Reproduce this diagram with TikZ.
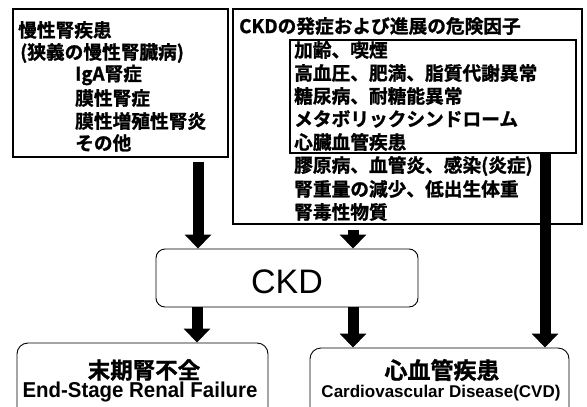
\documentclass[tikz,border=0pt]{standalone}
\usepackage{fontspec}
\setmainfont{Liberation Sans}
\newfontfamily\jp{Noto Sans CJK JP}[BoldFont={Noto Sans CJK JP Bold}, BoldFeatures={FakeBold=1.2}]
\usetikzlibrary{arrows.meta}
\begin{document}
\begin{tikzpicture}[x=1pt,y=-1pt,
  jt/.style={font=\jp\bfseries\fontsize{18.7}{18.7}\selectfont, anchor=west, inner sep=0pt},
  framebox/.style={draw, line width=1.6pt, inner sep=0pt, rectangle},
  roundbox/.style={draw, line width=0.9pt, inner sep=0pt, rectangle, rounded corners=9pt},
  bigarrow/.style={line width=11pt, -{Triangle[width=26pt,length=14pt]}},
]
\useasboundingbox (0,0) rectangle (587,407);
\fill[white] (0,0) rectangle (587,407);

% boxes
\node[framebox, minimum width=215pt, minimum height=148pt] (lbox) at (120.5,83) {};
\node[framebox, minimum width=349pt, minimum height=215pt] (rbox) at (407.5,116.5) {};
\node[framebox, line width=2pt, minimum width=286pt, minimum height=113pt] (ibox) at (433,96.5) {};
\node[roundbox, minimum width=262pt, minimum height=58pt] (ckd) at (287,278) {};
\node[roundbox, minimum width=251pt, minimum height=80pt, rounded corners=11pt] (esrf) at (142.5,383) {};
\node[roundbox, minimum width=259pt, minimum height=76pt, rounded corners=11pt] (cvd) at (439.5,386) {};

% left box text
\node[jt] (l1) at (18,30) {慢性腎疾患};
\node[jt] (l2) at (20,53) {(狭義の慢性腎臓病)};
\node[jt] (l3) at (75,75) {IgA腎症};
\node[jt] (l4) at (75,98) {膜性腎症};
\node[jt] (l5) at (75,121) {膜性増殖性腎炎};
\node[jt] (l6) at (75,143) {その他};

% right box text
\node[jt] (r0) at (239,26) {CKDの発症および進展の危険因子};
\node[jt] (r1) at (294,50) {加齢、喫煙};
\node[jt] (r2) at (294,73) {高血圧、肥満、脂質代謝異常};
\node[jt] (r3) at (294,96) {糖尿病、耐糖能異常};
\node[jt] (r4) at (294,119) {メタボリックシンドローム};
\node[jt] (r5) at (294,142) {心臓血管疾患};
\node[jt] (r6) at (294,166) {膠原病、血管炎、感染(炎症)};
\node[jt] (r7) at (294,189) {腎重量の減少、低出生体重};
\node[jt] (r8) at (294,212) {腎毒性物質};

% CKD label
\node[font=\fontsize{34}{34}\selectfont, inner sep=0pt] (ckdlabel) at (287,282) {CKD};

% bottom texts
\node[font=\jp\bfseries\fontsize{22.5}{22.5}\selectfont, inner sep=0pt] (esrfjp) at (144,370) {末期腎不全};
\node[font=\bfseries\fontsize{21.5}{21.5}\selectfont, inner sep=0pt] (esrfen) at (140,392) {\scalebox{0.95}[1]{End-Stage Renal Failure}};
\node[font=\jp\bfseries\fontsize{23}{23}\selectfont, inner sep=0pt] (cvdjp) at (442,370) {心血管疾患};
\node[font=\bfseries\fontsize{17}{17}\selectfont, inner sep=0pt] (cvden) at (441,393) {Cardiovascular Disease(CVD)};

% arrows
\draw[bigarrow] ([xshift=77.5pt,yshift=-4pt]lbox.south) -- ([xshift=-89pt]ckd.north);
\draw[bigarrow] ([xshift=-54.5pt,yshift=-5pt]rbox.south) -- ([xshift=66pt]ckd.north);
\draw[bigarrow] ([xshift=112pt]ibox.south) -- ([xshift=105.5pt]cvd.north);
\draw[bigarrow] ([xshift=-90pt]ckd.south) -- ([xshift=54.5pt]esrf.north);
\draw[bigarrow] ([xshift=66pt]ckd.south) -- ([xshift=-86.5pt]cvd.north);
\end{tikzpicture}
\end{document}
